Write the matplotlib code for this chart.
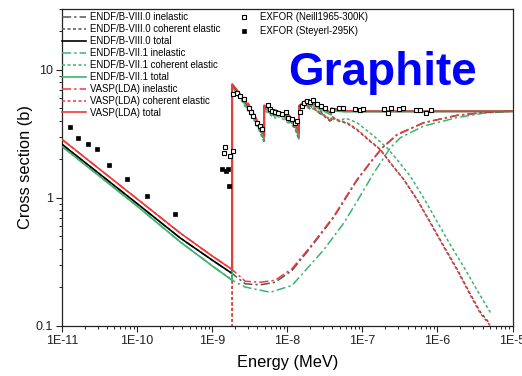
import math
import matplotlib
matplotlib.use("Agg")
import matplotlib.pyplot as plt
from matplotlib.ticker import FixedLocator, FuncFormatter, LogLocator, NullFormatter

plt.rcParams['font.family'] = ['Liberation Sans', 'DejaVu Sans']

# ---------------- data (energy in MeV, cross section in barns) ----------------
# totals share one energy grid (Bragg edges appear as repeated energies)
e_total = [1e-11, 1e-10, 3.74e-10, 1e-9, 1.85e-9, 1.85e-9, 2.46e-9, 3.0e-9, 3.0e-9,
           3.71e-9, 4.33e-9, 4.94e-9, 4.94e-9, 6.18e-9, 7.0e-9, 7.0e-9, 9.31e-9,
           1.05e-8, 1.05e-8, 1.27e-8, 1.43e-8, 1.43e-8, 1.72e-8, 2.0e-8, 2.0e-8,
           2.59e-8, 2.8e-8, 2.8e-8, 3.18e-8, 3.86e-8, 3.86e-8, 5.93e-8, 1.1e-7, 1e-5]
vasp_total = [2.86, 0.98, 0.53, 0.35, 0.274, 7.76, 6.28, 5.25, 5.5, 4.35, 3.64, 3.04,
              5.30, 4.78, 4.62, 4.85, 4.50, 4.25, 4.45, 3.87, 3.23, 5.24, 5.73, 5.45,
              5.75, 5.24, 5.08, 5.3, 4.93, 4.63, 5.02, 4.80, 4.75, 4.75]
b80_total = [2.62, 0.90, 0.485, 0.325, 0.255, 7.7, 6.2, 5.2, 5.45, 4.3, 3.6, 3.0, 5.25,
             4.74, 4.58, 4.8, 4.46, 4.21, 4.41, 3.83, 3.2, 5.2, 5.68, 5.41, 5.7, 5.2,
             5.04, 5.26, 4.89, 4.6, 4.98, 4.77, 4.74, 4.74]
b71_total = [2.52, 0.86, 0.452, 0.293, 0.226, 7.35, 5.95, 4.98, 5.2, 4.1, 3.45, 2.88,
             5.05, 4.55, 4.4, 4.6, 4.28, 4.03, 4.22, 3.67, 3.07, 5.0, 5.45, 5.2, 5.45,
             5.0, 4.85, 5.05, 4.7, 4.45, 4.8, 4.7, 4.72, 4.75]

# coherent elastic (zero below the Bragg cutoff)
e_coh = [1.85e-9, 1.85e-9, 2.46e-9, 3.0e-9, 3.0e-9, 3.71e-9, 4.33e-9, 4.94e-9, 4.94e-9,
         6.18e-9, 7.0e-9, 7.0e-9, 9.31e-9, 1.05e-8, 1.05e-8, 1.27e-8, 1.43e-8, 1.43e-8,
         1.72e-8, 2.0e-8, 2.0e-8, 2.59e-8, 2.8e-8, 2.8e-8, 3.18e-8, 3.86e-8, 3.86e-8,
         4.8e-8, 6.25e-8, 8.49e-8, 1.28e-7, 1.74e-7, 2.36e-7, 3.56e-7, 5.36e-7, 8.07e-7,
         1.21e-6, 1.83e-6, 2.75e-6, 3.74e-6, 4.83e-6, 5.0e-6]
vasp_coh = [1e-3, 7.49, 6.04, 5.03, 5.28, 4.13, 3.42, 2.82, 5.08, 4.56, 4.39, 4.62, 4.25,
            3.98, 4.19, 3.58, 2.92, 4.93, 5.37, 5.04, 5.34, 4.76, 4.57, 4.79, 4.36, 3.96,
            4.35, 4.05, 3.87, 3.43, 2.78, 2.39, 1.88, 1.39, 0.964, 0.632, 0.414, 0.271,
            0.172, 0.124, 0.103, 0.099]
b80_coh = [1e-3, 7.4, 5.96, 4.96, 5.2, 4.07, 3.37, 2.78, 5.0, 4.49, 4.33, 4.55, 4.19,
           3.92, 4.13, 3.53, 2.88, 4.86, 5.29, 4.97, 5.26, 4.69, 4.5, 4.72, 4.3, 3.9,
           4.29, 3.99, 3.82, 3.39, 2.75, 2.37, 1.87, 1.39, 0.97, 0.64, 0.42, 0.276,
           0.176, 0.127, 0.106, 0.102]
e_coh71 = [1.85e-9, 1.85e-9, 2.46e-9, 3.0e-9, 3.0e-9, 3.71e-9, 4.33e-9, 4.94e-9, 4.94e-9,
           6.18e-9, 7.0e-9, 7.0e-9, 9.31e-9, 1.05e-8, 1.05e-8, 1.27e-8, 1.43e-8, 1.43e-8,
           1.63e-8, 2.22e-8, 2.75e-8, 3.74e-8, 5.09e-8, 5.93e-8, 8.49e-8, 1.42e-7,
           2.13e-7, 2.9e-7, 4.37e-7, 6.56e-7, 9.9e-7, 1.49e-6, 2.24e-6, 3.38e-6, 5.09e-6]
b71_coh = [1e-3, 7.12, 5.75, 4.78, 5.0, 3.9, 3.25, 2.68, 4.85, 4.37, 4.2, 4.4, 4.05, 3.8,
           3.98, 3.43, 2.84, 4.75, 5.2, 4.95, 4.55, 4.15, 4.0, 4.2, 3.87, 3.04, 2.46,
           1.99, 1.47, 0.995, 0.65, 0.427, 0.288, 0.189, 0.126]

# inelastic
e_inel = [1e-11, 1e-10, 3.74e-10, 1e-9, 1.85e-9, 2.75e-9, 4.37e-9, 6.92e-9, 1.16e-8,
          2.03e-8, 4.14e-8, 8.49e-8, 1.28e-7, 1.83e-7, 2.9e-7, 6.56e-7, 1.83e-6, 5.09e-6, 1e-5]
vasp_inel = [2.86, 0.98, 0.53, 0.35, 0.274, 0.222, 0.218, 0.226, 0.279, 0.414, 0.713,
             1.39, 1.9, 2.46, 3.13, 3.87, 4.42, 4.70, 4.77]
b80_inel = [2.62, 0.90, 0.485, 0.325, 0.255, 0.212, 0.208, 0.218, 0.27, 0.405, 0.70,
            1.37, 1.88, 2.44, 3.11, 3.86, 4.41, 4.69, 4.76]
e_inel71 = [1e-11, 1e-10, 3.74e-10, 1e-9, 1.85e-9, 2.75e-9, 5.93e-9, 1.16e-8, 3.05e-8,
            5.64e-8, 8.49e-8, 1.42e-7, 2.36e-7, 3.21e-7, 6.56e-7, 1.83e-6, 4.14e-6, 1e-5]
b71_inel = [2.52, 0.86, 0.452, 0.293, 0.226, 0.20, 0.182, 0.206, 0.39, 0.632, 0.935,
            1.56, 2.46, 2.95, 3.64, 4.24, 4.59, 4.75]

# EXFOR measurements
neill_e = [1.42e-9, 1.46e-9, 1.74e-9, 1.87e-9, 1.91e-9, 2.17e-9, 2.38e-9, 2.65e-9,
           3.09e-9, 3.28e-9, 3.52e-9, 3.90e-9, 4.33e-9, 4.54e-9, 5.46e-9, 5.88e-9,
           6.31e-9, 6.85e-9, 7.59e-9, 8.39e-9, 9.49e-9, 1.03e-8, 1.14e-8, 1.27e-8,
           1.33e-8, 1.48e-8, 1.55e-8, 1.67e-8, 1.81e-8, 2.01e-8, 2.22e-8, 2.46e-8,
           2.81e-8, 3.18e-8, 3.95e-8, 4.83e-8, 5.53e-8, 8.07e-8, 9.2e-8, 1.02e-7,
           1.96e-7, 2.17e-7, 2.41e-7, 3.05e-7, 3.45e-7, 5.2e-7, 5.8e-7, 7.06e-7, 8.32e-7]
neill_xs = [2.22, 2.48, 2.14, 2.34, 6.47, 6.59, 6.28, 5.91, 5.08, 4.65, 4.37, 3.87, 3.64,
            3.43, 5.30, 4.93, 4.78, 4.65, 4.59, 4.51, 4.65, 4.24, 4.11, 3.87, 3.99, 4.65,
            5.24, 5.50, 5.73, 5.57, 5.84, 5.40, 5.24, 5.08, 4.87, 5.02, 5.02, 4.93, 4.87,
            4.93, 4.93, 4.59, 5.02, 4.93, 5.02, 4.84, 4.84, 4.59, 4.84]
steyerl_e = [1.28e-11, 1.63e-11, 2.22e-11, 2.93e-11, 4.24e-11, 7.36e-11, 1.36e-10,
             3.21e-10, 1.35e-9, 1.54e-9, 1.62e-9, 1.69e-9]
steyerl_xs = [3.56, 2.91, 2.61, 2.39, 1.82, 1.39, 1.04, 0.748, 1.68, 1.61, 1.68, 1.24]

x_ticks = [1e-11, 1e-10, 1e-9, 1e-8, 1e-7, 1e-6, 1e-5]
y_ticks = [0.1, 1, 10]

# ---------------- figure ----------------
W, H = 522, 376
fig = plt.figure(figsize=(W / 100, H / 100), dpi=100)
ax = fig.add_axes([62 / W, 1 - 325.5 / H, 450.5 / W, 316.5 / H])

RED = '#ef3a3a'
GREEN = '#3db36e'
GRAY = '#555555'
dashdot = (0, (6, 2, 1.5, 2))
dotted = (0, (2, 1.6))

l1, = ax.plot(e_inel, b80_inel, color=GRAY, lw=1.1, ls=dashdot, zorder=2,
              label='ENDF/B-VIII.0 inelastic')
l2, = ax.plot(e_coh, b80_coh, color=GRAY, lw=1.1, ls=dotted, zorder=2,
              label='ENDF/B-VIII.0 coherent elastic')
l4, = ax.plot(e_inel71, b71_inel, color=GREEN, lw=1.1, ls=dashdot, zorder=2,
              label='ENDF/B-VII.1 inelastic')
l5, = ax.plot(e_coh71, b71_coh, color=GREEN, lw=1.1, ls=dotted, zorder=2,
              label='ENDF/B-VII.1 coherent elastic')
l7, = ax.plot(e_inel, vasp_inel, color=RED, lw=1.1, ls=dashdot, zorder=2,
              label='VASP(LDA) inelastic')
l8, = ax.plot(e_coh, vasp_coh, color=RED, lw=1.1, ls=dotted, zorder=2,
              label='VASP(LDA) coherent elastic')
l3, = ax.plot(e_total, b80_total, color='black', lw=1.2, zorder=3,
              label='ENDF/B-VIII.0 total')
l6, = ax.plot(e_total, b71_total, color=GREEN, lw=1.2, zorder=3,
              label='ENDF/B-VII.1 total')
l9, = ax.plot(e_total, vasp_total, color=RED, lw=1.2, zorder=3,
              label='VASP(LDA) total')

m1, = ax.plot(neill_e, neill_xs, ls='none', marker='s', ms=2.8, mfc='white',
              mec='black', mew=0.8, zorder=4, label='EXFOR (Neill1965-300K)')
m2, = ax.plot(steyerl_e, steyerl_xs, ls='none', marker='s', ms=3.0, mfc='black',
              mec='black', mew=0.5, zorder=4, label='EXFOR (Steyerl-295K)')

ax.set_xscale('log')
ax.set_yscale('log')
ax.set_xlim(1e-11, 1e-5)
ax.set_ylim(0.1, 30)

ax.xaxis.set_major_locator(FixedLocator(x_ticks))
ax.xaxis.set_major_formatter(FuncFormatter(lambda v, p: '1E%d' % round(math.log10(v))))
ax.yaxis.set_major_locator(FixedLocator(y_ticks))
ax.yaxis.set_major_formatter(FuncFormatter(lambda v, p: '%g' % v))
for axis in (ax.xaxis, ax.yaxis):
    axis.set_minor_locator(LogLocator(base=10, subs=range(2, 10), numticks=20))
    axis.set_minor_formatter(NullFormatter())

ax.tick_params(which='major', direction='out', length=4.5, width=0.8, labelsize=9,
               colors='#222222', pad=2)
ax.tick_params(which='minor', direction='out', length=2.5, width=0.7, colors='#222222')
for s in ax.spines.values():
    s.set_linewidth(0.9)
    s.set_color('#222222')

ax.set_xlabel('Energy (MeV)', fontsize=11.8, labelpad=6)
ax.set_ylabel('Cross section (b)', fontsize=11.8, labelpad=2)

leg1 = ax.legend(handles=[l1, l2, l3, l4, l5, l6, l7, l8, l9], loc='upper left',
                 bbox_to_anchor=(62 / W, 1 - 12.5 / H), bbox_transform=fig.transFigure,
                 frameon=False, fontsize=6.9, handlelength=2.5, handletextpad=0.4,
                 labelspacing=0.2, borderpad=0, borderaxespad=0)
ax.add_artist(leg1)
ax.legend(handles=[m1, m2], loc='upper left',
          bbox_to_anchor=(236 / W, 1 - 12.5 / H), bbox_transform=fig.transFigure,
          frameon=False, fontsize=6.9, handlelength=1.6, handletextpad=0.9,
          labelspacing=0.36, borderpad=0, borderaxespad=0, numpoints=1)

fig.text(382 / W, 1 - 85 / H, 'Graphite', ha='center', va='baseline', fontsize=33,
         fontweight='bold', color='#0000ff')

fig.savefig('out.png', dpi=100)
